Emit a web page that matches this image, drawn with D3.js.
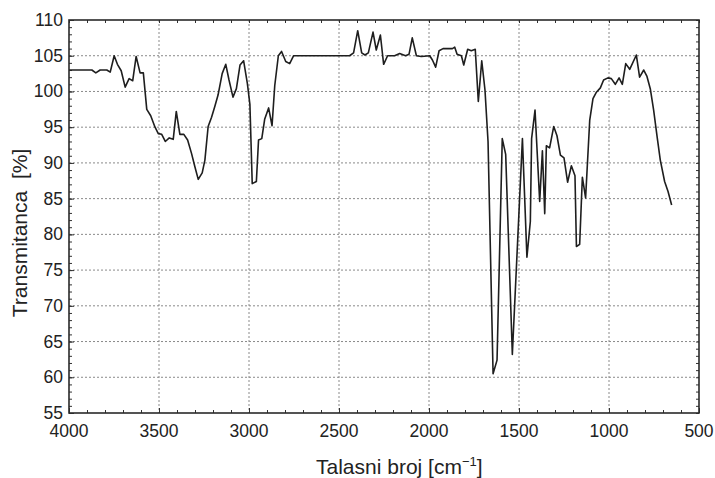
<!DOCTYPE html>
<html>
<head>
<meta charset="utf-8">
<script src="https://cdn.jsdelivr.net/npm/d3@7"></script>
<style>
  body { margin: 0; background: #fff; }
  svg text { font-family: "Liberation Sans", Arial, sans-serif; fill: #222; }
</style>
</head>
<body>
<svg id="chart" width="715" height="478"></svg>
<script>
// IR spectrum: wavenumber (cm-1) and transmittance (%)
const wavenumber = [
  4000, 3873, 3851, 3827, 3790, 3771, 3749, 3731, 3710, 3688, 3666, 3646, 3627, 3605, 3587,
  3568, 3546, 3522, 3504, 3485, 3465, 3443, 3421, 3404, 3384, 3362, 3341, 3319, 3301, 3282,
  3260, 3245, 3227, 3208, 3190, 3172, 3149, 3129, 3111, 3089, 3070, 3050, 3030, 3009, 2995,
  2982, 2959, 2947, 2929, 2913, 2891, 2872, 2857, 2837, 2819, 2796, 2774, 2752, 2441, 2419,
  2396, 2374, 2356, 2337, 2311, 2293, 2270, 2252, 2230, 2191, 2163, 2130, 2111, 2093, 2070,
  2043, 1996, 1981, 1963, 1944, 1922, 1870, 1857, 1844, 1820, 1807, 1785, 1765, 1743, 1726,
  1707, 1689, 1672, 1644, 1622, 1593, 1574, 1537, 1481, 1456, 1437, 1430, 1411, 1385, 1370,
  1357, 1348, 1330, 1307, 1289, 1270, 1250, 1230, 1209, 1189, 1181, 1163, 1148, 1130, 1107,
  1089, 1070, 1048, 1030, 1006, 987, 965, 944, 926, 907, 885, 848, 830, 807, 789,
  770, 752, 733, 715, 691, 672, 652
];
const transmittance = [
  103.0, 103.0, 102.6, 103.0, 103.0, 102.7, 105.0, 103.8, 102.9, 100.6, 101.8, 101.5, 104.9, 102.6, 102.6,
  97.5, 96.6, 95.0, 94.1, 94.0, 93.0, 93.5, 93.3, 97.2, 94.0, 94.0, 93.2, 91.3, 89.5, 87.7,
  88.6, 90.4, 95.1, 96.4, 97.9, 99.5, 102.5, 103.8, 101.6, 99.2, 100.4, 103.7, 104.3, 101.1, 98.2,
  87.1, 87.4, 93.2, 93.4, 96.1, 97.7, 95.2, 100.8, 105.0, 105.6, 104.2, 103.9, 105.0, 105.0, 105.4,
  108.5, 105.4, 105.1, 105.4, 108.3, 105.8, 107.9, 103.8, 105.0, 105.0, 105.3, 105.0, 105.2, 107.5, 105.0,
  104.9, 105.0, 104.4, 103.4, 105.7, 106.0, 106.0, 106.2, 105.2, 105.0, 103.7, 105.9, 105.7, 105.9, 98.6,
  104.3, 100.2, 93.0, 60.5, 62.4, 93.4, 91.2, 63.2, 93.4, 76.8, 81.8, 93.4, 97.4, 84.6, 91.7,
  82.9, 92.4, 92.1, 95.1, 93.8, 91.1, 90.7, 87.3, 89.6, 88.2, 78.3, 78.6, 88.0, 85.1, 96.0,
  99.0, 99.9, 100.5, 101.6, 101.9, 101.8, 101.0, 101.9, 101.0, 103.9, 103.1, 105.1, 102.0, 103.0, 102.1,
  100.3, 97.4, 93.7, 90.4, 87.4, 86.0, 84.1
];
const xTicks = [4000, 3500, 3000, 2500, 2000, 1500, 1000, 500];
const yTicks = [55, 60, 65, 70, 75, 80, 85, 90, 95, 100, 105, 110];
const xLabel = 'Talasni broj [cm';
const yLabel = 'Transmitanca\u00a0\u00a0[%]';

const margin = { top: 20, right: 16, bottom: 65, left: 69 };
const W = 715, H = 478;
const iw = W - margin.left - margin.right;
const ih = H - margin.top - margin.bottom;

const svg = d3.select('#chart');
const g = svg.append('g').attr('transform', `translate(${margin.left},${margin.top})`);

const x = d3.scaleLinear().domain([4000, 500]).range([0, iw]);
const y = d3.scaleLinear().domain([55, 110]).range([ih, 0]);

/* ── Grid ─────────────────────────────── */
const grid = g.append('g').attr('class', 'grid');
grid.selectAll('line.gx')
  .data(xTicks.slice(1, -1))
  .join('line')
  .attr('x1', d => x(d)).attr('x2', d => x(d))
  .attr('y1', 0).attr('y2', ih)
  .attr('stroke', '#8a8a8a').attr('stroke-width', 1)
  .attr('stroke-dasharray', '2,2');
grid.selectAll('line.gy')
  .data(yTicks.slice(1, -1))
  .join('line')
  .attr('x1', 0).attr('x2', iw)
  .attr('y1', d => y(d)).attr('y2', d => y(d))
  .attr('stroke', '#8a8a8a').attr('stroke-width', 1)
  .attr('stroke-dasharray', '2,2');

/* ── Axes (ticks inward, minor ticks) ─── */
const xMinor = d3.range(4000, 499, -100);
const yMinor = d3.range(55, 110.5, 1);

function tickAxis(axisFn, scale, values, size) {
  return axisFn(scale).tickValues(values).tickSize(size).tickFormat('');
}

// minor ticks on all four sides
g.append('g').attr('transform', `translate(0,${ih})`)
  .call(tickAxis(d3.axisTop, x, xMinor, 3));
g.append('g')
  .call(tickAxis(d3.axisBottom, x, xMinor, 3));
g.append('g')
  .call(tickAxis(d3.axisRight, y, yMinor, 3));
g.append('g').attr('transform', `translate(${iw},0)`)
  .call(tickAxis(d3.axisLeft, y, yMinor, 3));

// major ticks
g.append('g').attr('transform', `translate(0,${ih})`)
  .call(tickAxis(d3.axisTop, x, xTicks, 5));
g.append('g')
  .call(tickAxis(d3.axisRight, y, yTicks, 5));

g.selectAll('.domain').remove();
g.selectAll('.tick line').attr('stroke', '#333').attr('stroke-width', 1);

// tick labels
g.append('g').selectAll('text')
  .data(xTicks)
  .join('text')
  .attr('x', d => x(d))
  .attr('y', ih + 24)
  .attr('text-anchor', 'middle')
  .attr('font-size', 17.5)
  .text(d => d);
g.append('g').selectAll('text')
  .data(yTicks)
  .join('text')
  .attr('x', -6)
  .attr('y', d => y(d) + 6)
  .attr('text-anchor', 'end')
  .attr('font-size', 17.5)
  .text(d => d);

/* ── Spectrum line ────────────────────── */
const pts = wavenumber.map((w, i) => [w, transmittance[i]]);
g.append('path')
  .datum(pts)
  .attr('fill', 'none')
  .attr('stroke', '#1e1e1e')
  .attr('stroke-width', 1.6)
  .attr('stroke-linejoin', 'round')
  .attr('d', d3.line().x(d => x(d[0])).y(d => y(d[1])));

/* ── Frame ────────────────────────────── */
g.append('rect')
  .attr('width', iw).attr('height', ih)
  .attr('fill', 'none')
  .attr('stroke', '#2a2a2a')
  .attr('stroke-width', 1.6);

/* ── Axis titles ──────────────────────── */
const xt = svg.append('text')
  .attr('x', 316)
  .attr('y', 474)
  .attr('text-anchor', 'start')
  .attr('font-size', 21);
xt.append('tspan').text(xLabel);
xt.append('tspan').attr('dy', -8).attr('font-size', 13).text('\u22121');
xt.append('tspan').attr('dy', 8).text(']');

svg.append('text')
  .attr('transform', 'translate(27,233) rotate(-90)')
  .attr('text-anchor', 'middle')
  .attr('font-size', 21)
  .text(yLabel);
</script>
</body>
</html>
